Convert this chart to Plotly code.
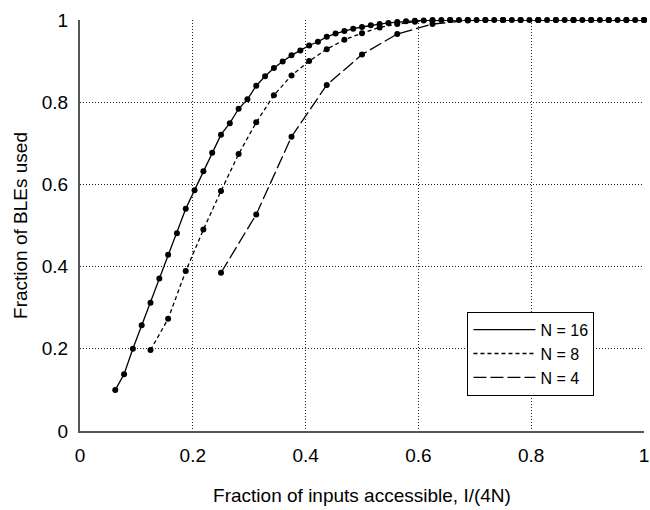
import plotly.graph_objects as go

# number of accessible inputs I, and fraction of BLEs used, per cluster size N
inputs_n16 = [4, 5, 6, 7, 8, 9, 10, 11, 12, 13, 14, 15, 16, 17, 18, 19, 20, 21, 22, 23, 24,
              25, 26, 27, 28, 29, 30, 31, 32, 33, 34, 35, 36, 37, 38, 39, 40, 41, 42, 43, 44,
              45, 46, 47, 48, 49, 50, 51, 52, 53, 54, 55, 56, 57, 58, 59, 60, 61, 62, 63, 64]
used_n16 = [0.100, 0.138, 0.200, 0.257, 0.312, 0.371, 0.429, 0.481, 0.541, 0.586, 0.632,
            0.677, 0.721, 0.749, 0.784, 0.807, 0.840, 0.863, 0.883, 0.899, 0.914, 0.926,
            0.938, 0.947, 0.959, 0.967, 0.973, 0.979, 0.983, 0.987, 0.990, 0.993, 0.995,
            0.997, 0.998, 0.999, 1.0, 1.0, 1.0, 1.0, 1.0, 1.0, 1.0, 1.0, 1.0, 1.0, 1.0,
            1.0, 1.0, 1.0, 1.0, 1.0, 1.0, 1.0, 1.0, 1.0, 1.0, 1.0, 1.0, 1.0, 1.0]

inputs_n8 = [4, 5, 6, 7, 8, 9, 10, 11, 12, 13, 14, 15, 16, 17, 18, 19, 20, 21, 22, 23, 24,
             25, 26, 27, 28, 29, 30, 31, 32]
used_n8 = [0.197, 0.273, 0.389, 0.490, 0.584, 0.674, 0.751, 0.817, 0.865, 0.900, 0.929,
           0.952, 0.968, 0.982, 0.990, 0.996, 0.998, 1.0, 1.0, 1.0, 1.0, 1.0, 1.0, 1.0,
           1.0, 1.0, 1.0, 1.0, 1.0]

inputs_n4 = [4, 5, 6, 7, 8, 9, 10, 11, 12, 13, 14, 15, 16]
used_n4 = [0.385, 0.527, 0.716, 0.842, 0.916, 0.966, 0.990, 0.999, 1.0, 1.0, 1.0, 1.0, 1.0]

tick_vals = [0, 0.2, 0.4, 0.6, 0.8, 1]
tick_text = ["0", "0.2", "0.4", "0.6", "0.8", "1"]

series = [
    ("N = 16", 16, inputs_n16, used_n16, "solid"),
    ("N = 8", 8, inputs_n8, used_n8, "4px,3px"),
    ("N = 4", 4, inputs_n4, used_n4, "13px,4px"),
]

FONT = "Liberation Sans, Arial, sans-serif"

fig = go.Figure()

for name, n, inputs, used, dash in series:
    x = [i / (4 * n) for i in inputs]
    # line only (this is what shows in the legend)
    fig.add_trace(go.Scatter(
        x=x, y=used, mode="lines", name=name,
        line=dict(color="black", width=1.3, dash=dash),
        cliponaxis=False,
    ))
    # the dots, kept out of the legend
    fig.add_trace(go.Scatter(
        x=x, y=used, mode="markers", showlegend=False,
        marker=dict(color="black", size=6),
        cliponaxis=False,
    ))

axis_style = dict(
    range=[0, 1],
    tickvals=tick_vals,
    ticktext=tick_text,
    showgrid=True,
    gridcolor="#222",
    griddash="1px,2px",
    gridwidth=1,
    zeroline=False,
    showline=True,
    linecolor="#555",
    linewidth=2,
    ticks="",
    automargin=False,
    ticklabeloverflow="allow",
    tickfont=dict(size=19, color="black"),
    title_font=dict(size=19, color="black"),
)

fig.update_xaxes(axis_style, title_text="Fraction of inputs accessible, I/(4N)",
                 ticklabelstandoff=6, title_standoff=24)
fig.update_yaxes(axis_style, title_text="Fraction of BLEs used",
                 ticklabelstandoff=6, title_standoff=9)

fig.update_layout(
    width=650, height=510,
    margin=dict(l=80, r=6, t=20, b=79),
    plot_bgcolor="white",
    paper_bgcolor="white",
    font=dict(family=FONT, color="black"),
    showlegend=True,
    legend=dict(
        x=0.687, y=0.29, xanchor="left", yanchor="top",
        bgcolor="white", bordercolor="black", borderwidth=1,
        font=dict(size=16), itemwidth=62,
        tracegroupgap=0,
    ),
)

# page body has a default 8px margin, drop it so the figure sits at the corner
fig.write_html("out.html", config={"displayModeBar": False},
               post_script="document.body.style.margin='0';")
